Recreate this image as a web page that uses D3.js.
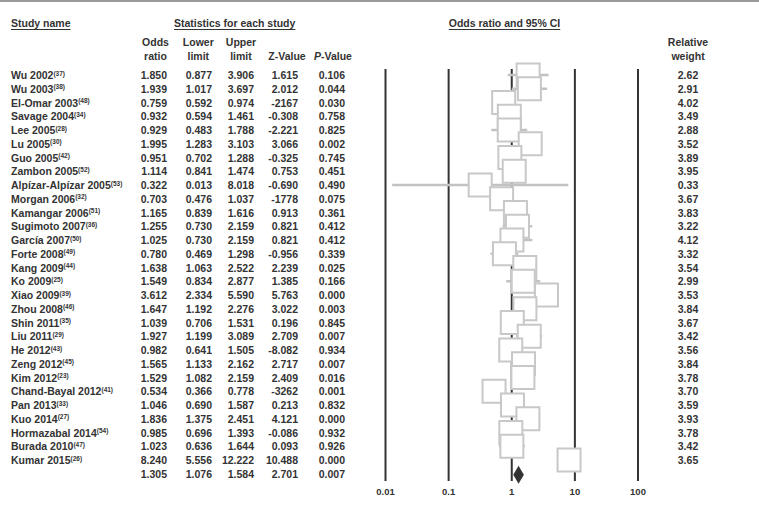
<!DOCTYPE html>
<html>
<head>
<meta charset="utf-8">
<script src="https://cdn.jsdelivr.net/npm/d3@7"></script>
<style>
  body { margin: 0; background: #fff; }
  svg { display: block; font-family: "Liberation Sans", Arial, sans-serif; font-weight: bold; }
</style>
</head>
<body>
<svg></svg>
<script>
// studies in the meta-analysis, with their reference numbers
const studies = ['Wu 2002', 'Wu 2003', 'El-Omar 2003', 'Savage 2004', 'Lee 2005', 'Lu 2005', 'Guo 2005',
    'Zambon 2005', 'Alpízar-Alpízar 2005', 'Morgan 2006', 'Kamangar 2006', 'Sugimoto 2007', 'García 2007',
    'Forte 2008', 'Kang 2009', 'Ko 2009', 'Xiao 2009', 'Zhou 2008', 'Shin 2011', 'Liu 2011', 'He 2012',
    'Zeng 2012', 'Kim 2012', 'Chand-Bayal 2012', 'Pan 2013', 'Kuo 2014', 'Hormazabal 2014', 'Burada 2010',
    'Kumar 2015']
const refs = ['37', '38', '48', '34', '28', '30', '42', '52', '53', '32', '51', '36', '50', '49', '44', '25',
    '39', '46', '35', '29', '43', '45', '23', '41', '33', '27', '54', '47', '26']

// statistics for each study
const oddsRatio = [1.850, 1.939, 0.759, 0.932, 0.929, 1.995, 0.951, 1.114, 0.322, 0.703, 1.165, 1.255, 1.025,
    0.780, 1.638, 1.549, 3.612, 1.647, 1.039, 1.927, 0.982, 1.565, 1.529, 0.534, 1.046, 1.836, 0.985, 1.023, 8.240]
const lowerLimit = [0.877, 1.017, 0.592, 0.594, 0.483, 1.283, 0.702, 0.841, 0.013, 0.476, 0.839, 0.730, 0.730,
    0.469, 1.063, 0.834, 2.334, 1.192, 0.706, 1.199, 0.641, 1.133, 1.082, 0.366, 0.690, 1.375, 0.696, 0.636, 5.556]
const upperLimit = [3.906, 3.697, 0.974, 1.461, 1.788, 3.103, 1.288, 1.474, 8.018, 1.037, 1.616, 2.159, 2.159,
    1.298, 2.522, 2.877, 5.590, 2.276, 1.531, 3.089, 1.505, 2.162, 2.159, 0.778, 1.587, 2.451, 1.393, 1.644, 12.222]
// z values kept as printed in the source table
const zValue = ['1.615', '2.012', '-2167', '-0.308', '-2.221', '3.066', '-0.325', '0.753', '-0.690', '-1778',
    '0.913', '0.821', '0.821', '-0.956', '2.239', '1.385', '5.763', '3.022', '0.196', '2.709', '-8.082', '2.717',
    '2.409', '-3262', '0.213', '4.121', '-0.086', '0.093', '10.488']
const pValue = [0.106, 0.044, 0.030, 0.758, 0.825, 0.002, 0.745, 0.451, 0.490, 0.075, 0.361, 0.412, 0.412,
    0.339, 0.025, 0.166, 0.000, 0.003, 0.845, 0.007, 0.934, 0.007, 0.016, 0.001, 0.832, 0.000, 0.932, 0.926, 0.000]
const relWeight = [2.62, 2.91, 4.02, 3.49, 2.88, 3.52, 3.89, 3.95, 0.33, 3.67, 3.83, 3.22, 4.12, 3.32, 3.54,
    2.99, 3.53, 3.84, 3.67, 3.42, 3.56, 3.84, 3.78, 3.70, 3.59, 3.93, 3.78, 3.42, 3.65]

// pooled estimate
const pooledOR = 1.305, pooledLower = 1.076, pooledUpper = 1.584, pooledZ = '2.701', pooledP = 0.007

const axisTicks = [0.01, 0.1, 1, 10, 100]

document.addEventListener("DOMContentLoaded", function() {
    drawChart()
})

function drawChart() {
    let svgWidth = 759, svgHeight = 508
    let ink = '#333'
    let f3 = d3.format('.3f'), f2 = d3.format('.2f')

    let svg = d3.select('svg')
        .attr('width', svgWidth)
        .attr('height', svgHeight)
        .style('font-size', '10.5px')

    // frame edge at the top
    svg.append('line')
        .attr('x1', 0).attr('x2', svgWidth)
        .attr('y1', 1).attr('y2', 1)
        .attr('stroke', '#9a9a9a')
        .attr('stroke-width', 2)

    let n = studies.length
    // row centres, last row is the pooled estimate
    let y = d3.scaleLinear()
        .domain([0, n])
        .range([75, 473.75])
    let x = d3.scaleLog()
        .domain([0.01, 100])
        .range([385, 637.5])

    // underlined section headers
    function header(label, xPos, anchor) {
        let t = svg.append('text')
            .attr('x', xPos).attr('y', 27)
            .attr('text-anchor', anchor)
            .attr('fill', ink)
            .text(label)
        let w = t.node().getComputedTextLength()
        let x0 = anchor == 'middle' ? xPos - w / 2 : xPos
        svg.append('line')
            .attr('x1', x0).attr('x2', x0 + w)
            .attr('y1', 29.5).attr('y2', 29.5)
            .attr('stroke', ink)
            .attr('stroke-width', 1)
    }
    header('Study name', 11, 'start')
    header('Statistics for each study', 234.7, 'middle')
    header('Odds ratio and 95% CI', 504.5, 'middle')

    // column headers
    let cols = [
        { top: 'Odds', bottom: 'ratio', cx: 155.5, end: 167 },
        { top: 'Lower', bottom: 'limit', cx: 198.3, end: 212 },
        { top: 'Upper', bottom: 'limit', cx: 241, end: 254 },
        { top: '', bottom: 'Z-Value', cx: 287, end: 298 },
        { top: '', bottom: 'P-Value', cx: 333, end: 345 },
        { top: 'Relative', bottom: 'weight', cx: 688, end: null }
    ]
    cols.forEach(function(c) {
        if (c.top) {
            svg.append('text')
                .attr('x', c.cx).attr('y', 46)
                .attr('text-anchor', 'middle')
                .attr('fill', ink)
                .text(c.top)
        }
        let b = svg.append('text')
            .attr('x', c.cx).attr('y', 59.5)
            .attr('text-anchor', 'middle')
            .attr('fill', ink)
        if (c.bottom == 'P-Value') {
            b.append('tspan').style('font-style', 'italic').text('P')
            b.append('tspan').text('-Value')
        } else {
            b.text(c.bottom)
        }
    })

    // study names with superscript references
    let names = svg.append('g').selectAll('text')
        .data(studies)
        .join('text')
        .attr('x', 11)
        .attr('y', function(d, i) { return y(i) + 4 })
        .attr('fill', ink)
    names.append('tspan').text(function(d) { return d })
    names.append('tspan')
        .attr('dy', -3.5)
        .style('font-size', '6.5px')
        .text(function(d, i) { return '(' + refs[i] + ')' })

    // numeric columns, pooled row appended at the end
    let columns = [
        oddsRatio.map(f3).concat(f3(pooledOR)),
        lowerLimit.map(f3).concat(f3(pooledLower)),
        upperLimit.map(f3).concat(f3(pooledUpper)),
        zValue.concat(pooledZ),
        pValue.map(f3).concat(f3(pooledP))
    ]
    columns.forEach(function(vals, c) {
        svg.append('g').selectAll('text')
            .data(vals)
            .join('text')
            .attr('x', cols[c].end)
            .attr('y', function(d, i) { return y(i) + 4 })
            .attr('text-anchor', 'end')
            .attr('fill', ink)
            .text(function(d) { return d })
    })

    svg.append('g').selectAll('text')
        .data(relWeight)
        .join('text')
        .attr('x', 688)
        .attr('y', function(d, i) { return y(i) + 4 })
        .attr('text-anchor', 'middle')
        .attr('fill', ink)
        .text(f2)

    // reference lines and labels from the axis
    let axis = svg.append('g')
        .attr('transform', 'translate(0,481)')
        .call(d3.axisBottom(x)
            .tickValues(axisTicks)
            .tickFormat(function(d) { return d })
            .tickSize(-412)
            .tickPadding(7))
    axis.select('.domain').remove()
    axis.selectAll('.tick line')
        .attr('stroke', ink)
        .attr('stroke-width', 2)
    axis.selectAll('.tick text')
        .attr('fill', ink)
        .style('font-size', '9.5px')
        .style('font-family', '"Liberation Sans", Arial, sans-serif')
        .style('font-weight', 'bold')

    // confidence intervals and boxes, drawn study by study
    let box = 23
    let plot = svg.append('g')
    studies.forEach(function(s, i) {
        plot.append('line')
            .attr('x1', x(lowerLimit[i])).attr('x2', x(upperLimit[i]))
            .attr('y1', y(i)).attr('y2', y(i))
            .attr('stroke', '#c2c2c2')
            .attr('stroke-width', 2.5)
        plot.append('rect')
            .attr('x', x(oddsRatio[i]) - box / 2)
            .attr('y', y(i) - box / 2)
            .attr('width', box)
            .attr('height', box)
            .attr('fill', '#fff')
            .attr('stroke', '#c8c8c8')
            .attr('stroke-width', 2)
    })

    // pooled diamond
    let cy = y(n) + 1
    plot.append('path')
        .attr('d', 'M' + x(pooledLower) + ',' + cy +
            'L' + x(pooledOR) + ',' + (cy - 9) +
            'L' + x(pooledUpper) + ',' + cy +
            'L' + x(pooledOR) + ',' + (cy + 9) + 'Z')
        .attr('fill', ink)
}
</script>
</body>
</html>
